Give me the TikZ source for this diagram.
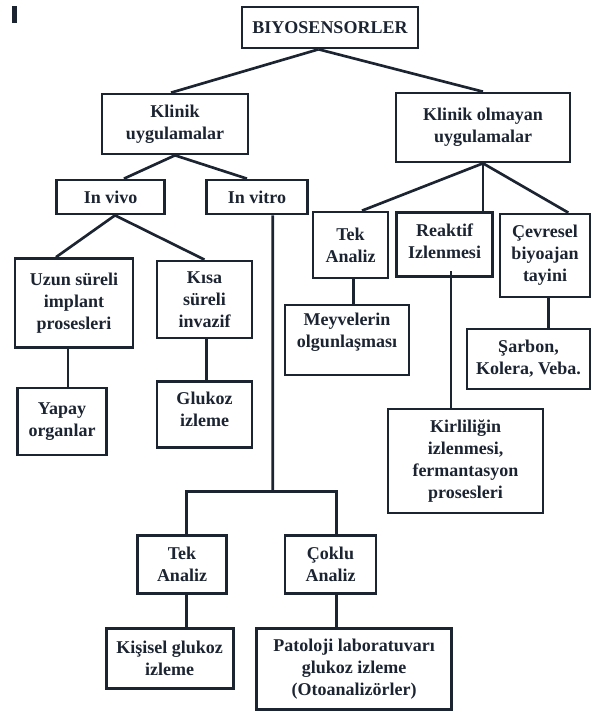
\documentclass[tikz,border=0pt]{standalone}
\usepackage{fontspec}
\setmainfont{Liberation Serif}
\usetikzlibrary{positioning}
\definecolor{ink}{RGB}{28,36,50}
\begin{document}
\begin{tikzpicture}[
    x=0.75pt,y=-0.75pt,
    boxes/.style 2 args={rectangle,draw=ink,line width=2pt,align=center,text=ink,inner sep=1pt,minimum width=#1*0.75pt,minimum height=#2*0.75pt,font=\bfseries\fontsize{13.5}{16.5}\selectfont},
    links/.style={draw=ink,line width=2pt},
  ]
\useasboundingbox (0,0) rectangle (591,713);
\fill[ink] (12,6) rectangle (17,23);

\node (bio) at (330,27.5) [boxes={176}{41}] {BIYOSENSORLER};
\node (klinik) at (175,124) [boxes={146}{60}] {Klinik\\uygulamalar};
\node (nonklinik) at (483,127.5) [boxes={174}{69}] {Klinik olmayan\\uygulamalar};

\node (invivo) at (110.6,197) [boxes={108}{34}] {In vivo};
\node (invitro) at (257,197) [boxes={101}{34}] {In vitro};
\node (tek one) at (350.5,245) [boxes={75}{66}] {Tek\\Analiz};
\node (reaktif) at (444.5,244.5) [boxes={96}{64},text depth=5pt] {Reaktif\\Izlenmesi};
\node (cevresel) at (545,255.5) [boxes={90}{83}] {Çevresel\\biyoajan\\tayini};

\node (uzun) at (74,303) [boxes={118}{89}] {Uzun süreli\\implant\\prosesleri};
\node (kisa) at (204.5,299.5) [boxes={95}{77}] {Kısa\\süreli\\invazif};
\node (meyve) at (347,340) [boxes={124}{70},text depth=14pt] {Meyvelerin\\olgunlaşması};
\node (sarbon) at (528.5,359) [boxes={123}{60}] {Şarbon,\\Kolera, Veba.};

\node (yapay) at (62,421.5) [boxes={89}{67}] {Yapay\\organlar};
\node (glukoz) at (204.5,414.7) [boxes={95}{66},text depth=7.5pt] {Glukoz\\izleme};
\node (kirli) at (465.5,461) [boxes={155}{104}] {Kirliliğin\\izlenmesi,\\fermantasyon\\prosesleri};

\node (tek two) at (182,564.5) [boxes={89}{58}] {Tek\\Analiz};
\node (coklu) at (330.5,564.5) [boxes={91}{58}] {Çoklu\\Analiz};
\node (kisisel) at (169.7,658.3) [boxes={127}{60}] {Kişisel glukoz\\izleme};
\node (patoloji) at (354,668.8) [boxes={195}{81}] {Patoloji laboratuvarı\\glukoz izleme\\(Otoanalizörler)};

\coordinate (split) at (272.7,491.7);

\draw[links] ([xshift=-8.6pt]bio.south) to ([xshift=-3pt]klinik.north);
\draw[links] ([xshift=-8.6pt]bio.south) to (nonklinik.north);
\draw[links] (klinik.south) to ([xshift=10pt]invivo.north);
\draw[links] (klinik.south) to ([xshift=-7.5pt]invitro.north);
\draw[links] (nonklinik.south) to ([xshift=8.6pt]tek one.north);
\draw[links] (nonklinik.south) to (nonklinik.south |- reaktif.north);
\draw[links] (nonklinik.south) to ([xshift=17.5pt]cevresel.north);
\draw[links] ([xshift=3.3pt]invivo.south) to ([xshift=-13.5pt]uzun.north);
\draw[links] ([xshift=3.3pt]invivo.south) to (kisa.north);
\draw[links] ([xshift=-4.5pt]uzun.south) to ([xshift=-4.5pt]uzun.south |- yapay.north);
\draw[links] ([xshift=1.5pt]kisa.south) to ([xshift=1.5pt]kisa.south |- glukoz.north);
\draw[links] ([xshift=2pt]tek one.south) to ([xshift=2pt]tek one.south |- meyve.north);
\draw[links] ([xshift=4.9pt,yshift=5pt]reaktif.south) to ([xshift=4.9pt]reaktif.south |- kirli.north);
\draw[links] ([xshift=2.5pt]cevresel.south) to ([xshift=2.5pt]cevresel.south |- sarbon.north);
\draw[links] ([xshift=11.8pt]invitro.south) to (split);
\draw[links] ([xshift=3.3pt]tek two.north) |- (split) -| ([xshift=4.5pt]coklu.north);
\draw[links] ([xshift=3.3pt]tek two.south) to ([xshift=3.3pt]tek two.south |- kisisel.north);
\draw[links] ([xshift=4.5pt]coklu.south) to ([xshift=4.5pt]coklu.south |- patoloji.north);
\end{tikzpicture}
\end{document}
